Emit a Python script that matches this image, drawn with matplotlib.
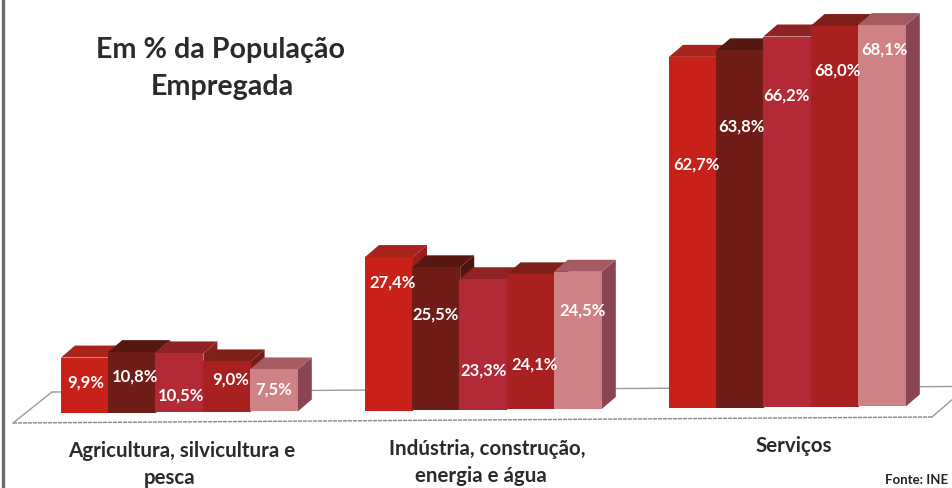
import matplotlib
matplotlib.use('Agg')
import matplotlib.pyplot as plt
from matplotlib.patches import Polygon

plt.rcParams['font.family'] = ['Lato', 'DejaVu Sans']

# valores (uma lista por serie, ordem dos grupos = categorias)
categorias = ['Agricultura, silvicultura e\npesca', 'Indústria, construção,\nenergia e água', 'Serviços']
serie_1 = [9.9, 27.4, 62.7]
serie_2 = [10.8, 25.5, 63.8]
serie_3 = [10.5, 23.3, 66.2]
serie_4 = [9.0, 24.1, 68.0]
serie_5 = [7.5, 24.5, 68.1]
series = [serie_1, serie_2, serie_3, serie_4, serie_5]
rotulos = [['9,9%', '27,4%', '62,7%'], ['10,8%', '25,5%', '63,8%'], ['10,5%', '23,3%', '66,2%'],
           ['9,0%', '24,1%', '68,0%'], ['7,5%', '24,5%', '68,1%']]

# cores: frente, topo, lado
cores = [('#C8211A', '#A8241C', '#9A1F18'),
         ('#6F1D16', '#561710', '#4E1510'),
         ('#B22A36', '#8F2323', '#862020'),
         ('#A92020', '#7E1F18', '#751C17'),
         ('#CF8285', '#A65B63', '#8B4552')]

# posicao dos rotulos em px (serie x grupo)
rotulo_y = [[383, 283, 165], [377, 315, 127], [396, 371, 96], [380, 365, 71], [390, 311, 50]]
rotulo_dx = [[2, 5, 4], [4, 0, 2], [3, 1, 0], [5, 5, 4], [1, 6, 4]]

W, H = 952, 488
PX = 5.6          # px por ponto percentual
BASE = 413        # base do primeiro grupo em px
INCL = 5 / 608    # inclinacao da digitalizacao
LARG = 48
PASSO = 47.2
DX, DY = 14, 12
grupos_x = [61, 365, 669]


def y_pct(py):
    return (BASE - py) / PX


fig = plt.figure(figsize=(W / 100, H / 100), dpi=100)
ax = fig.add_axes([0, 0, 1, 1])
ax.set_xlim(0, W)
ax.set_ylim(y_pct(H), y_pct(0))
ax.axis('off')

# moldura esquerda e chao
ax.plot([3, 3], [y_pct(0), y_pct(H)], color='#6b6b6b', lw=2.4)
chao_x = [13, 932, 954, 52, 13]
chao_y = [423, 417, 398, 392, 423]
ax.plot(chao_x[:2], [y_pct(v) for v in chao_y[:2]], color='#8a8a8a', lw=1, ls=(0, (3, 0.6)))
ax.plot(chao_x[1:3], [y_pct(v) for v in chao_y[1:3]], color='#9a9a9a', lw=1)
ax.plot([52, 954], [y_pct(392), y_pct(386.5)], color='#9a9a9a', lw=1)
ax.plot(chao_x[3:], [y_pct(v) for v in chao_y[3:]], color='#9a9a9a', lw=1)

# barras em pseudo 3D
dx_u, dy_u = DX, DY / PX
for g in range(len(categorias)):
    for s, valores in enumerate(series):
        x0 = grupos_x[g] + s * PASSO
        x1 = x0 + LARG
        b0 = INCL * (x0 - grupos_x[0]) / PX
        v = valores[g] + b0
        frente, topo, lado = cores[s]
        ax.add_patch(Polygon([(x1, b0), (x1 + dx_u, b0 + dy_u), (x1 + dx_u, v + dy_u), (x1, v)],
                             closed=True, fc=lado, ec='none', zorder=3 + g * 10 + s))
        ax.add_patch(Polygon([(x0, v), (x0 + dx_u, v + dy_u), (x1 + dx_u, v + dy_u), (x1, v)],
                             closed=True, fc=topo, ec='none', zorder=3 + g * 10 + s))
        ax.bar(x0, valores[g], width=LARG, bottom=b0, align='edge', color=frente, zorder=3.5 + g * 10 + s)
        ax.text(x0 + LARG / 2 - 1 + rotulo_dx[s][g], y_pct(rotulo_y[s][g]), rotulos[s][g], color='white',
                fontsize=12, fontweight='bold', ha='center', va='center', zorder=80)

# titulo e categorias
ax.text(221, y_pct(50), 'Em % da População', fontsize=20.6, fontweight='bold', color='#2a2a2a', ha='center', va='center')
ax.text(222, y_pct(87), 'Empregada', fontsize=20.6, fontweight='bold', color='#2a2a2a', ha='center', va='center')
cat_x = [182, 487, 794]
cat_y = [451, 449, 446]
cat_x2 = [170, 481, 794]
for c, nome in enumerate(categorias):
    for i, linha in enumerate(nome.split('\n')):
        x = cat_x[c] if i == 0 else cat_x2[c]
        ax.text(x, y_pct(cat_y[c] + i * 27), linha, fontsize=14.8, fontweight='bold',
                color='#2a2a2a', ha='center', va='center')
ax.text(948, y_pct(480), 'Fonte: INE', fontsize=9.5, fontweight='bold', color='#222222', ha='right', va='center')

fig.savefig('out.png', dpi=100)
